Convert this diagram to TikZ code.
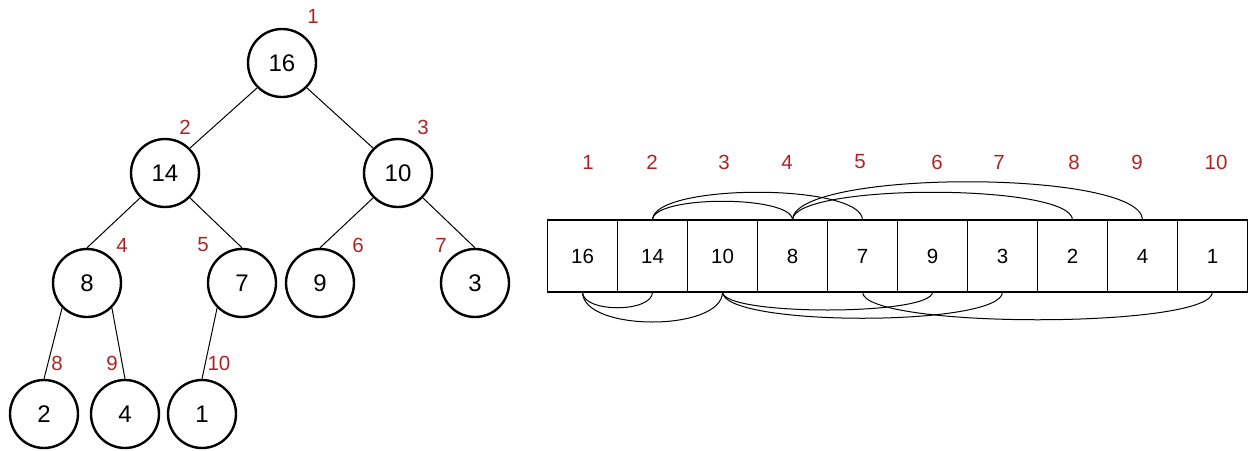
\documentclass[tikz,border=0pt]{standalone}
\usepackage{fontspec}
\setmainfont{Liberation Sans}
\usetikzlibrary{positioning}
\definecolor{idxred}{RGB}{178,34,34}
\tikzset{
	heapnode/.style={
		draw, circle, line width=2.4pt, minimum size=68pt, inner sep=0pt,
		font={\fontsize{24}{28}\selectfont}
	},
	cell/.style={
		draw, rectangle, line width=1.5pt, minimum width=\cellW pt, minimum height=72pt,
		inner sep=0pt, outer sep=0pt, font={\fontsize{20.5}{24}\selectfont}
	},
	idx/.style={text=idxred, inner sep=0pt, font={\fontsize{20.5}{24}\selectfont}},
	link/.style={line width=1pt},
}
\def\cellW{70}

\begin{document}
\begin{tikzpicture}[x=1pt, y=-1pt]
\useasboundingbox (0,0) rectangle (1250,450);
% the heap as a tree
\node[heapnode] (root) at (282,63) {16};
\node[heapnode] (n14) at (165,173) {14};
\node[heapnode] (n10) at (398,173) {10};
\node[heapnode] (n8) at (87,283) {8};
\node[heapnode] (n7) at (242,283) {7};
\node[heapnode] (n9) at (320,283) {9};
\node[heapnode] (n3) at (475,283) {3};
\node[heapnode] (n2) at (44,414) {2};
\node[heapnode] (n4) at (125,414) {4};
\node[heapnode] (n1) at (202,414) {1};
\draw[link] (root.south west) -- (n14.north east);
\draw[link] (root.south east) -- (n10.north west);
\draw[link] (n14.south west) -- (n8.north);
\draw[link] (n14.south east) -- (n7.north);
\draw[link] (n10.south west) -- (n9.north);
\draw[link] (n10.south east) -- (n3.north);
\draw[link] (n8.south west) -- (n2.north);
\draw[link] (n8.south east) -- (n4.north);
\draw[link] (n7.south west) -- (n1.north);
\node[idx] (t1) at (313,16) {1};
\node[idx] (t2) at (185,127) {2};
\node[idx] (t3) at (423,127) {3};
\node[idx] (t4) at (122,245) {4};
\node[idx] (t5) at (203,245) {5};
\node[idx] (t6) at (358,245) {6};
\node[idx] (t7) at (441,245) {7};
\node[idx] (t8) at (57,363) {8};
\node[idx] (t9) at (112,363) {9};
\node[idx] (t10) at (219,363) {10};
% the same heap as an array
\node[cell] (a1) at (582.5,256) {16};
\node[cell, right=0pt of a1] (a2) {14};
\node[cell, right=0pt of a2] (a3) {10};
\node[cell, right=0pt of a3] (a4) {8};
\node[cell, right=0pt of a4] (a5) {7};
\node[cell, right=0pt of a5] (a6) {9};
\node[cell, right=0pt of a6] (a7) {3};
\node[cell, right=0pt of a7] (a8) {2};
\node[cell, right=0pt of a8] (a9) {4};
\node[cell, right=0pt of a9] (a10) {1};
\node[idx] (i1) at (588,162) {1};
\node[idx] (i2) at (652,162) {2};
\node[idx] (i3) at (724,162) {3};
\node[idx] (i4) at (787,162) {4};
\node[idx] (i5) at (860,162) {5};
\node[idx] (i6) at (937,162) {6};
\node[idx] (i7) at (999,162) {7};
\node[idx] (i8) at (1074,162) {8};
\node[idx] (i9) at (1137,162) {9};
\node[idx] (i10) at (1216,162) {10};
% parent to child, above and below the array
\draw[link] (a2.north) .. controls +(0,-25) and +(0,-25) .. (a4.north);
\draw[link] (a2.north) .. controls +(0,-37) and +(0,-37) .. (a5.north);
\draw[link] (a4.north) .. controls +(0,-37) and +(0,-37) .. (a8.north);
\draw[link] (a4.north) .. controls +(0,-51) and +(0,-51) .. (a9.north);
\draw[link] (a1.south) .. controls +(0,21) and +(0,21) .. (a2.south);
\draw[link] (a1.south) .. controls +(0,40) and +(0,40) .. (a3.south);
\draw[link] (a3.south) .. controls +(0,24) and +(0,24) .. (a6.south);
\draw[link] (a3.south) .. controls +(0,35) and +(0,35) .. (a7.south);
\draw[link] (a5.south) .. controls +(0,37) and +(0,37) .. (a10.south);
\end{tikzpicture}
\end{document}
